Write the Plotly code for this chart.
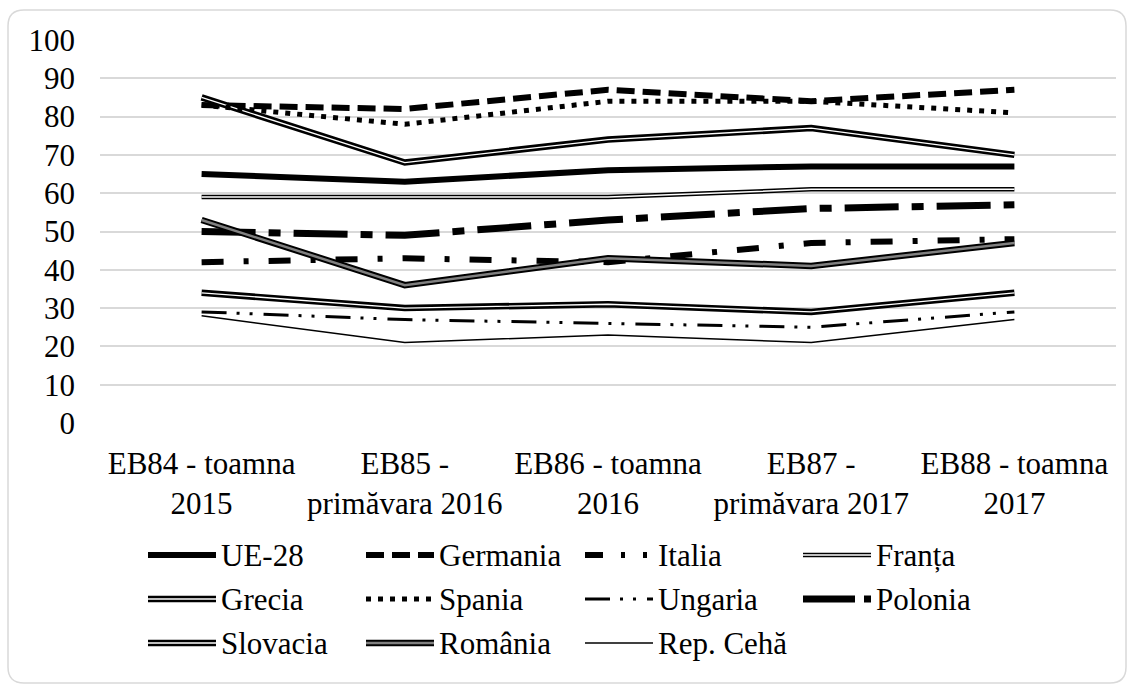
import plotly.graph_objects as go

# Survey waves (x axis)
categories = [
    "EB84 - toamna<br>2015",
    "EB85 -<br>primăvara 2016",
    "EB86 - toamna<br>2016",
    "EB87 -<br>primăvara 2017",
    "EB88 - toamna<br>2017",
]
y_ticks = [0, 10, 20, 30, 40, 50, 60, 70, 80, 90, 100]

# Values per country / region (%)
ue28 = [65, 63, 66, 67, 67]
germania = [83, 82, 87, 84, 87]
italia = [42, 43, 42, 47, 48]
franta = [59, 59, 59, 61, 61]
grecia = [85, 68, 74, 77, 70]
spania = [83, 78, 84, 84, 81]
ungaria = [29, 27, 26, 25, 29]
polonia = [50, 49, 53, 56, 57]
slovacia = [34, 30, 31, 29, 34]
romania = [53, 36, 43, 41, 47]
rep_ceha = [28, 21, 23, 21, 27]

series = [
    ("UE-28", ue28),
    ("Germania", germania),
    ("Italia", italia),
    ("Franța", franta),
    ("Grecia", grecia),
    ("Spania", spania),
    ("Ungaria", ungaria),
    ("Polonia", polonia),
    ("Slovacia", slovacia),
    ("România", romania),
    ("Rep. Cehă", rep_ceha),
]

# Line styles: each series is drawn as one or more stacked strokes (width, colour, dash)
STYLES = {
    "UE-28": [(6, "#000000", "solid")],
    "Germania": [(6, "#000000", "18px,8px")],
    "Italia": [(6, "#000000", "22px,20px,5px,20px")],
    "Franța": [(4.5, "#000000", "solid"), (1.5, "#ffffff", "solid")],
    "Grecia": [(6.5, "#000000", "solid"), (1.3, "#ffffff", "solid")],
    "Spania": [(5, "#000000", "5px,7px")],
    "Ungaria": [(3, "#000000", "25px,10px,3px,10px,3px,11px")],
    "Polonia": [(7, "#000000", "54px,13px,12px,13px")],
    "Slovacia": [(6.5, "#000000", "solid"), (1.3, "#ffffff", "solid")],
    "România": [(6.5, "#000000", "solid"), (2.5, "#808080", "solid")],
    "Rep. Cehă": [(1.5, "#000000", "solid")],
}
LEGEND_DASH = {
    "Italia": "18px,18px,4px,18px,4px,30px",
    "Polonia": "52px,9px,7px,20px",
}

FONT = "Times New Roman"
W, H = 1130, 688
L, R, T, B = 100, 1116, 40, 423
PW, PH = R - L, B - T


def px_x(p):
    return (p - L) / PW


def px_y(p):
    return (B - p) / PH


fig = go.Figure()
xs = list(range(len(categories)))
for name, vals in series:
    for width, color, dash in STYLES[name]:
        fig.add_trace(go.Scatter(
            x=xs, y=vals, mode="lines", name=name, showlegend=False,
            line=dict(color=color, width=width, dash=dash),
            hoverinfo="skip",
        ))

# Rounded outer frame
x0, y0, x1, y1, r = 8, 10, 1126, 683, 16
pts = [
    ("M", [(x0 + r, y0)]), ("L", [(x1 - r, y0)]), ("Q", [(x1, y0), (x1, y0 + r)]),
    ("L", [(x1, y1 - r)]), ("Q", [(x1, y1), (x1 - r, y1)]),
    ("L", [(x0 + r, y1)]), ("Q", [(x0, y1), (x0, y1 - r)]),
    ("L", [(x0, y0 + r)]), ("Q", [(x0, y0), (x0 + r, y0)]),
]
path = " ".join(cmd + " " + " ".join(f"{px_x(a):.5f},{px_y(b):.5f}" for a, b in p) for cmd, p in pts) + " Z"
fig.add_shape(type="path", xref="paper", yref="paper", path=path,
              line=dict(color="#d9d9d9", width=1.5), fillcolor="rgba(0,0,0,0)", layer="below")

# Legend: 4 columns x 3 rows
col_x = [148, 366, 585, 803]
row_y = [555, 599, 643]
sym_len = 68
for i, (name, _) in enumerate(series):
    cx = col_x[i % 4]
    cy = row_y[i // 4]
    for width, color, dash in STYLES[name]:
        fig.add_shape(
            type="line", xref="paper", yref="paper",
            x0=px_x(cx), x1=px_x(cx + sym_len), y0=px_y(cy), y1=px_y(cy),
            line=dict(color=color, width=width, dash=LEGEND_DASH.get(name, dash)),
        )
    fig.add_annotation(
        xref="paper", yref="paper", x=px_x(cx + sym_len + 3), y=px_y(cy),
        xanchor="left", yanchor="middle", showarrow=False, text=name,
        font=dict(family=FONT, size=31, color="#000000"),
    )

fig.update_layout(
    width=W, height=H,
    margin=dict(l=L, r=W - R, t=T, b=H - B),
    paper_bgcolor="#ffffff", plot_bgcolor="#ffffff",
    font=dict(family=FONT, size=31, color="#000000"),
    showlegend=False,
)
fig.update_xaxes(
    range=[-0.5, len(categories) - 0.5], tickmode="array", tickvals=xs, ticktext=categories,
    showgrid=False, zeroline=False, showline=False, ticks="",
    tickfont=dict(family=FONT, size=31, color="#000000"), ticklabelstandoff=19,
)
fig.update_yaxes(
    range=[0, 100], tickmode="array", tickvals=y_ticks,
    showgrid=True, gridcolor="#d9d9d9", gridwidth=1.5,
    zeroline=False, showline=False, ticks="",
    tickfont=dict(family=FONT, size=31, color="#000000"), ticklabelstandoff=24,
)

fig.write_html("out.html")
